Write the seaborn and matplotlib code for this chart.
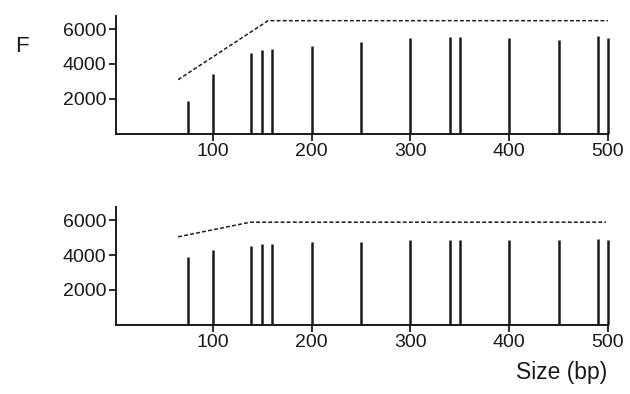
import numpy as np
import pandas as pd
import seaborn as sns
import matplotlib.pyplot as plt

# fragment sizes (bp) of the size standard peaks
sizes = [75, 100, 139, 150, 160, 200, 250, 300, 340, 350, 400, 450, 490, 500]

# peak heights
heights_top = [1850, 3440, 4640, 4810, 4870, 5060, 5250, 5500, 5530, 5570, 5470, 5380, 5600, 5470]
heights_bottom = [3870, 4310, 4540, 4620, 4640, 4730, 4770, 4890, 4850, 4890, 4870, 4870, 4910, 4890]

# dashed guide lines (size, F)
guide_top_x = [65, 156, 500]
guide_top_y = [3100, 6490, 6490]
guide_bottom_x = [65, 138, 498]
guide_bottom_y = [5050, 5890, 5890]

sns.set_style("ticks")
plt.rcParams['font.family'] = ['Liberation Sans', 'DejaVu Sans']

fig = plt.figure(figsize=(6.3, 3.94), dpi=100)
ax_top = fig.add_axes([0.184, 0.661, 0.781, 0.298])
ax_bot = fig.add_axes([0.184, 0.176, 0.781, 0.298])

panels = [
    (ax_top, heights_top, guide_top_x, guide_top_y),
    (ax_bot, heights_bottom, guide_bottom_x, guide_bottom_y),
]

for ax, heights, gx, gy in panels:
    ax.vlines(sizes, 0, heights, color="#1a1a1a", linewidth=1.8, clip_on=False)
    df_guide = pd.DataFrame({"Size": gx, "F": gy})
    sns.lineplot(data=df_guide, x="Size", y="F", ax=ax, color="#1a1a1a",
                 linestyle=(0, (2.5, 1.5)), linewidth=1.1, sort=False, estimator=None)
    ax.set_xlim(2, 500)
    ax.set_ylim(0, 6750)
    ax.set_xticks([100, 200, 300, 400, 500])
    ax.set_yticks([2000, 4000, 6000])
    ax.set_xlabel("")
    ax.set_ylabel("")
    sns.despine(ax=ax)
    for s in ["left", "bottom"]:
        ax.spines[s].set_linewidth(1.4)
        ax.spines[s].set_color("#1a1a1a")
    ax.tick_params(axis="both", labelsize=14, width=1.3, color="#1a1a1a",
                   labelcolor="#1a1a1a", length=5, pad=2)

fig.text(0.035, 0.882, "F", fontsize=16, color="#1a1a1a", ha="center", va="center")
fig.text(0.964, 0.025, "Size (bp)", fontsize=16.5, color="#1a1a1a", ha="right", va="bottom")

fig.savefig("out.png", dpi=100)
